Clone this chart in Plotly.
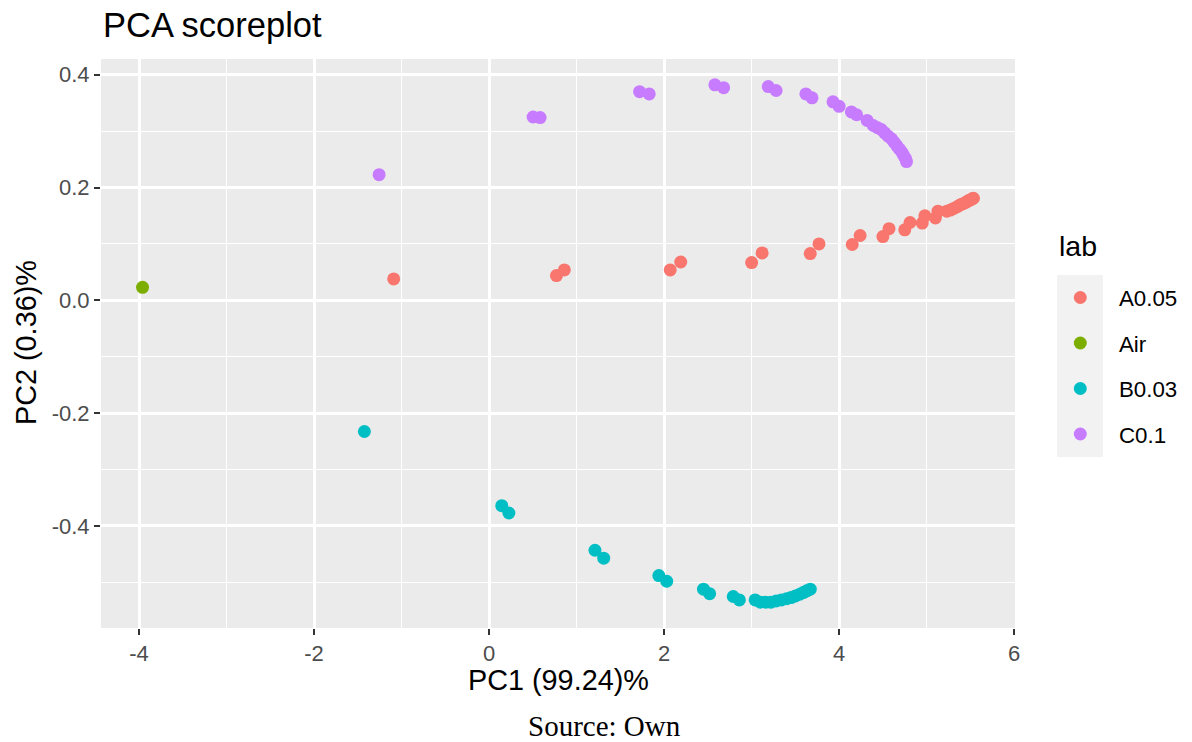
import plotly.graph_objects as go

# PCA scores per sample group (PC1, PC2)
air_pc1 = [-3.96]
air_pc2 = [0.023]

a005_pc1 = [-1.09, 0.77, 0.86, 2.07, 2.19, 3.00, 3.12, 3.67, 3.77, 4.15, 4.24,
            4.50, 4.57, 4.75, 4.81, 4.95, 4.98, 5.10, 5.13, 5.23, 5.27, 5.31,
            5.35, 5.38, 5.41, 5.44, 5.46, 5.48, 5.50, 5.52, 5.535]
a005_pc2 = [0.038, 0.044, 0.054, 0.054, 0.068, 0.067, 0.084, 0.083, 0.100, 0.099, 0.115,
            0.113, 0.127, 0.125, 0.138, 0.137, 0.150, 0.146, 0.158, 0.158, 0.160, 0.163,
            0.166, 0.169, 0.171, 0.173, 0.175, 0.177, 0.178, 0.180, 0.181]

b003_pc1 = [-1.425, 0.145, 0.226, 1.21, 1.31, 1.94, 2.03, 2.45, 2.52, 2.79, 2.86,
            3.04, 3.10, 3.16, 3.22, 3.28, 3.34, 3.40, 3.45, 3.50, 3.55, 3.59, 3.63, 3.67]
b003_pc2 = [-0.2325, -0.364, -0.377, -0.443, -0.457, -0.488, -0.498, -0.512, -0.520, -0.525, -0.531,
            -0.531, -0.535, -0.535, -0.535, -0.533, -0.531, -0.529, -0.527, -0.524, -0.521, -0.518,
            -0.515, -0.512]

c01_pc1 = [-1.257, 0.503, 0.583, 1.72, 1.83, 2.58, 2.68, 3.19, 3.28, 3.62, 3.69,
           3.93, 4.00, 4.14, 4.20, 4.32, 4.39, 4.44, 4.48, 4.52, 4.56, 4.60, 4.63,
           4.66, 4.69, 4.72, 4.74, 4.76, 4.77]
c01_pc2 = [0.2227, 0.325, 0.324, 0.370, 0.366, 0.382, 0.377, 0.379, 0.372, 0.366, 0.359,
           0.352, 0.344, 0.334, 0.329, 0.319, 0.310, 0.306, 0.303, 0.297, 0.291, 0.286, 0.280,
           0.274, 0.268, 0.262, 0.256, 0.251, 0.246]

groups = ["A0.05", "Air", "B0.03", "C0.1"]
colors = ["#F8766D", "#7CAE00", "#00BFC4", "#C77CFF"]
series = [(a005_pc1, a005_pc2), (air_pc1, air_pc2), (b003_pc1, b003_pc2), (c01_pc1, c01_pc2)]

x_ticks = [-4, -2, 0, 2, 4, 6]
y_ticks = [-0.4, -0.2, 0.0, 0.2, 0.4]
y_tick_text = ["-0.4", "-0.2", "0.0", "0.2", "0.4"]

# figure geometry (pixels)
W, H = 1192, 742
L, R, T, B = 101, 177, 59, 114
PW, PH = W - L - R, H - T - B


def xp(px):
    return (px - L) / PW


def yp(py):
    return (H - B - py) / PH


all_x = [v for s in series for v in s[0]]
all_y = [v for s in series for v in s[1]]
xr = max(all_x) - min(all_x)
yr = max(all_y) - min(all_y)
x_range = [min(all_x) - 0.05 * xr, max(all_x) + 0.05 * xr]
y_range = [min(all_y) - 0.05 * yr, max(all_y) + 0.05 * yr]

SANS = "Liberation Sans, Arial, sans-serif"

fig = go.Figure()
for name, col, (xs, ys) in zip(groups, colors, series):
    fig.add_trace(go.Scatter(
        x=xs, y=ys, mode="markers", name=name, showlegend=False,
        marker=dict(color=col, size=13, line=dict(width=0)),
    ))

axis_common = dict(
    showgrid=True, gridcolor="white", gridwidth=2.7,
    zeroline=False, showline=False,
    ticks="outside", ticklen=6, tickwidth=2, tickcolor="#333333",
    tickfont=dict(family=SANS, size=22, color="#4D4D4D"),
)

fig.update_xaxes(range=x_range, tickvals=x_ticks, ticktext=[str(t) for t in x_ticks],
                 minor=dict(dtick=1, tick0=0, showgrid=True, gridcolor="white", gridwidth=1.4),
                 **axis_common)
fig.update_yaxes(range=y_range, tickvals=y_ticks, ticktext=y_tick_text,
                 minor=dict(dtick=0.1, tick0=0, showgrid=True, gridcolor="white", gridwidth=1.4),
                 **axis_common)

annotations = [
    dict(text="PCA scoreplot", x=xp(101), y=yp(25), xanchor="left", yanchor="middle",
         font=dict(family=SANS, size=34.5, color="black")),
    dict(text="PC1 (99.24)%", x=xp(558), y=yp(680), xanchor="center", yanchor="middle",
         font=dict(family=SANS, size=28.8, color="black")),
    dict(text="PC2 (0.36)%", x=xp(26), y=yp(343), xanchor="center", yanchor="middle",
         textangle=-90, font=dict(family=SANS, size=28.8, color="black")),
    dict(text="Source: Own", x=xp(604.5), y=yp(726), xanchor="center", yanchor="middle",
         font=dict(family="Liberation Serif, Times New Roman, serif", size=29, color="black")),
    dict(text="lab", x=xp(1057), y=yp(246), xanchor="left", yanchor="middle",
         font=dict(family=SANS, size=28.5, color="black")),
]

# legend: grey key column, coloured dots and labels
key_top, key_step = 297.5, 45.5
shapes = [dict(type="rect", xref="paper", yref="paper",
               x0=xp(1057), x1=xp(1103), y0=yp(275), y1=yp(457),
               fillcolor="#F2F2F2", line=dict(width=0), layer="below")]
for i, (name, col) in enumerate(zip(groups, colors)):
    cy = key_top + i * key_step
    shapes.append(dict(type="circle", xref="paper", yref="paper",
                       xsizemode="pixel", ysizemode="pixel",
                       xanchor=xp(1080.3), yanchor=yp(cy),
                       x0=-6.5, x1=6.5, y0=-6.5, y1=6.5,
                       fillcolor=col, line=dict(width=0)))
    annotations.append(dict(text=name, x=xp(1117), y=yp(cy + 1), xanchor="left", yanchor="middle",
                            font=dict(family=SANS, size=22.3, color="black")))

fig.update_layout(
    width=W, height=H,
    margin=dict(l=L, r=R, t=T, b=B, pad=0),
    paper_bgcolor="white", plot_bgcolor="#EBEBEB",
    annotations=[dict(a, xref="paper", yref="paper", showarrow=False) for a in annotations],
    shapes=shapes,
    showlegend=False,
)

fig.write_html("out.html")
